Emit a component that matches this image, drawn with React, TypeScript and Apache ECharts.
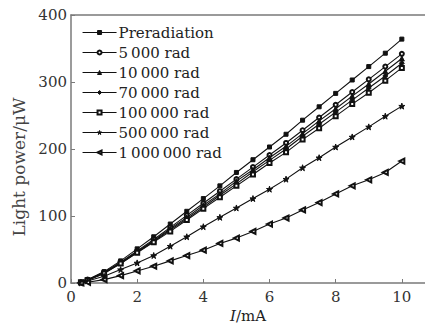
import React, { useEffect, useRef } from "react";
import * as echarts from "echarts";

const currents = [0.3, 0.5, 1, 1.5, 2, 2.5, 3, 3.5, 4, 4.5, 5, 5.5, 6, 6.5, 7, 7.5, 8, 8.5, 9, 9.5, 10];

const preradiation = [1, 5, 17, 33, 51, 69, 88, 107, 126, 145, 165, 184, 203, 222, 243, 263, 283, 303, 323, 343, 364];
const rad5000 = [1, 5, 16, 31, 48, 65, 83, 101, 119, 137, 155, 173, 191, 209, 228, 247, 266, 285, 304, 323, 342];
const rad10000 = [1, 4, 15, 30, 47, 63, 81, 98, 116, 133, 152, 169, 187, 204, 223, 242, 260, 279, 297, 316, 335];
const rad70000 = [1, 4, 15, 29, 46, 62, 79, 96, 113, 131, 148, 166, 183, 200, 219, 237, 255, 273, 291, 309, 328];
const rad100000 = [1, 4, 14, 29, 45, 61, 77, 94, 111, 128, 145, 162, 179, 195, 214, 231, 249, 267, 284, 302, 321];
const rad500000 = [0, 3, 10, 20, 30, 41, 55, 69, 84, 98, 112, 126, 140, 155, 172, 187, 203, 218, 233, 249, 264];
const rad1000000 = [0, 1, 5, 11, 18, 25, 33, 41, 49, 59, 67, 77, 88, 97, 109, 120, 133, 145, 154, 165, 182];

const seriesNames = [
  "Preradiation",
  "5\u2009000 rad",
  "10\u2009000 rad",
  "70\u2009000 rad",
  "100\u2009000 rad",
  "500\u2009000 rad",
  "1\u2009000\u2009000 rad",
];
const seriesValues = [preradiation, rad5000, rad10000, rad70000, rad100000, rad500000, rad1000000];

const xTicks = [0, 2, 4, 6, 8, 10];
const yTicks = [0, 100, 200, 300, 400];

const starPath =
  "path://M50,0 L61,35 L98,35 L68,57 L79,91 L50,70 L21,91 L32,57 L2,35 L39,35 Z";

const symbols = ["rect", "emptyCircle", "triangle", "diamond", "emptyRect", starPath, "emptyTriangle"];
const symbolRotates = [0, 0, 0, 0, 0, 0, 90];
const symbolSizes = [4, 4, 5, 5, 4, 6, 5];

const FONT = "DejaVu Serif";

export default function App() {
  const ref = useRef<HTMLDivElement>(null);
  useEffect(() => {
    document.body.style.margin = "0";
    if (!ref.current) return;
    const chart = echarts.init(ref.current, undefined, { renderer: "svg" });
    const axisColor = "#7a7a7a";
    chart.setOption({
      animation: false,
      backgroundColor: "#ffffff",
      textStyle: { fontFamily: FONT, color: "#222" },
      grid: { left: 71, top: 15, right: 0, bottom: 44, containLabel: false, outerBoundsMode: "none" },
      legend: {
        left: 82,
        top: 25,
        padding: 0,
        orient: "vertical",
        itemWidth: 34,
        itemHeight: 5,
        itemGap: 5,
        data: seriesNames,
        itemStyle: { borderWidth: 1 },
        lineStyle: { width: 1.1 },
        textStyle: { fontFamily: FONT, fontSize: 15, color: "#222", padding: [0, 0, 0, -3] },
      },
      xAxis: [
        {
          type: "value",
          min: 0,
          max: 10.7,
          interval: 2,
          name: "{i|I}/mA",
          nameLocation: "middle",
          nameGap: 25,
          nameTextStyle: {
            fontFamily: FONT,
            fontSize: 15,
            color: "#222",
            rich: { i: { fontStyle: "italic", fontFamily: FONT, fontSize: 15, color: "#222" } },
          },
          axisLine: { show: true, lineStyle: { color: axisColor, width: 1.5 } },
          axisTick: { show: true, inside: true, length: 4, lineStyle: { color: axisColor }, customValues: xTicks },
          axisLabel: { fontFamily: FONT, fontSize: 15, color: "#333", margin: 6, customValues: xTicks },
          splitLine: { show: false },
        },
        {
          type: "value",
          position: "top",
          min: 0,
          max: 10.7,
          axisLine: { show: true, lineStyle: { color: axisColor, width: 1.5 } },
          axisTick: { show: false },
          axisLabel: { show: false },
          splitLine: { show: false },
        },
      ],
      yAxis: {
        type: "value",
        min: 0,
        max: 400,
        interval: 100,
        name: "Light power/\u03bcW",
        nameLocation: "middle",
        nameGap: 31,
        nameTextStyle: { fontFamily: FONT, fontSize: 17, color: "#444", padding: [0, 36, 0, 0] },
        axisLine: { show: true, lineStyle: { color: axisColor, width: 1.5 } },
        axisTick: { show: true, inside: true, length: 4, lineStyle: { color: axisColor }, customValues: yTicks },
        axisLabel: { fontFamily: FONT, fontSize: 15, color: "#333", margin: 4, customValues: yTicks },
        splitLine: { show: false },
      },
      series: seriesNames.map((name, i) => ({
        name,
        type: "line",
        xAxisIndex: 0,
        data: currents.map((c, j) => [c, seriesValues[i][j]]),
        symbol: symbols[i],
        symbolSize: symbolSizes[i],
        symbolRotate: symbolRotates[i],
        showAllSymbol: true,
        lineStyle: { color: "#111", width: 1.1 },
        itemStyle: { color: "#111", borderColor: "#111", borderWidth: 1 },
      })),
    });
    return () => chart.dispose();
  }, []);
  return <div ref={ref} style={{ width: 425, height: 327 }} />;
}
